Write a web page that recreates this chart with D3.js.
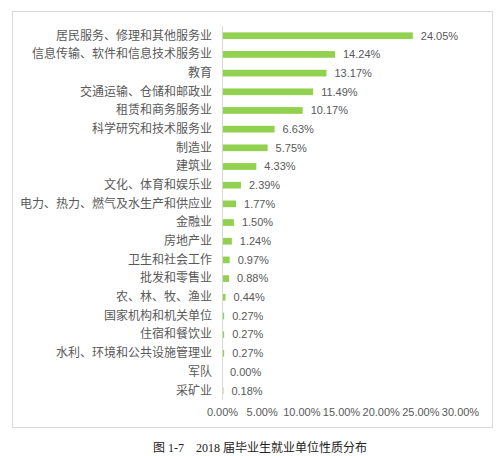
<!DOCTYPE html>
<html>
<head>
<meta charset="utf-8">
<script src="https://cdn.jsdelivr.net/npm/d3@7"></script>
<style>
  body { margin: 0; background: #fff; }
  text { font-family: "Liberation Sans", "Noto Sans CJK SC", sans-serif; fill: #595959; }
</style>
</head>
<body>
<script>
var categories = ["居民服务、修理和其他服务业", "信息传输、软件和信息技术服务业", "教育",
  "交通运输、仓储和邮政业", "租赁和商务服务业", "科学研究和技术服务业", "制造业", "建筑业",
  "文化、体育和娱乐业", "电力、热力、燃气及水生产和供应业", "金融业", "房地产业",
  "卫生和社会工作", "批发和零售业", "农、林、牧、渔业", "国家机构和机关单位",
  "住宿和餐饮业", "水利、环境和公共设施管理业", "军队", "采矿业"];
var values = [24.05, 14.24, 13.17, 11.49, 10.17, 6.63, 5.75, 4.33, 2.39, 1.77, 1.50, 1.24,
  0.97, 0.88, 0.44, 0.27, 0.27, 0.27, 0.00, 0.18];
var xTicks = [0, 5, 10, 15, 20, 25, 30];
var caption = "图 1-7　2018 届毕业生就业单位性质分布";

var w = 503, h = 456;
var svg = d3.select("body").append("svg")
  .attr("width", w)
  .attr("height", h);

// outer frame
svg.append("rect")
  .attr("x", 12.5).attr("y", 11.5)
  .attr("width", 480).attr("height", 416)
  .attr("fill", "none")
  .attr("stroke", "#d9d9d9");

var xScale = d3.scaleLinear()
  .domain([0, 30])
  .range([222, 460]);

var yScale = d3.scaleBand()
  .domain(categories)
  .range([26.4, 400])
  .paddingInner(0.64)
  .paddingOuter(0.32);

svg.selectAll("rect.bar")
  .data(values)
  .enter()
  .append("rect")
    .attr("class", "bar")
    .attr("x", xScale(0))
    .attr("y", function(d, i) { return yScale(categories[i]); })
    .attr("width", function(d) { return xScale(d) - xScale(0); })
    .attr("height", yScale.bandwidth())
    .attr("fill", "#92d050");

svg.selectAll("text.val")
  .data(values)
  .enter()
  .append("text")
    .attr("class", "val")
    .attr("x", function(d) { return xScale(d) + 8; })
    .attr("y", function(d, i) { return yScale(categories[i]) + yScale.bandwidth() / 2; })
    .attr("dy", "0.35em")
    .attr("font-size", 11)
    .text(function(d) { return d.toFixed(2) + "%"; });

// category axis
var yAxis = d3.axisLeft(yScale).tickSize(0).tickPadding(10);
var gy = svg.append("g")
  .attr("transform", "translate(" + xScale(0) + ",0)")
  .call(yAxis);
gy.select(".domain").attr("stroke", "#d9d9d9").attr("d", "M0.5,26V400");
gy.selectAll("text").attr("font-size", 12).style("font-family", null);

// value axis (labels only)
var xAxis = d3.axisBottom(xScale)
  .tickValues(xTicks)
  .tickSize(0)
  .tickFormat(function(d) { return d.toFixed(2) + "%"; });
var gx = svg.append("g")
  .attr("transform", "translate(0,405)")
  .call(xAxis);
gx.select(".domain").remove();
gx.selectAll("text").attr("font-size", 11).style("font-family", null);

svg.append("text")
  .attr("x", 260)
  .attr("y", 452)
  .attr("text-anchor", "middle")
  .attr("font-size", 12)
  .style("font-family", '"Liberation Serif", "Noto Sans CJK SC", serif')
  .style("fill", "#222")
  .text(caption);
</script>
</body>
</html>
